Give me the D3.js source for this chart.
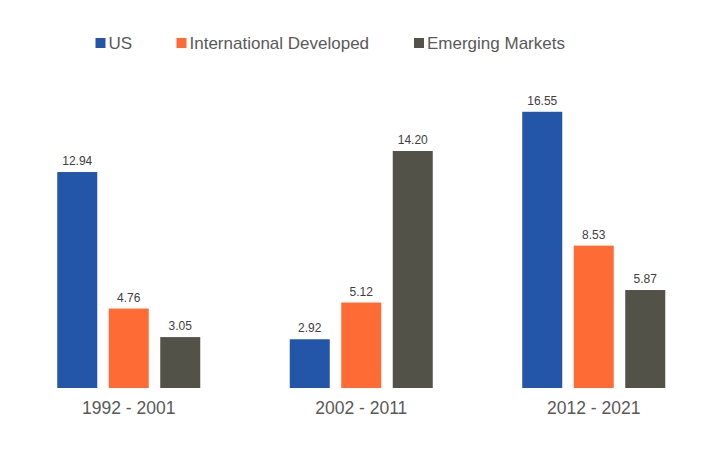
<!DOCTYPE html>
<html><head><meta charset="utf-8">
<script src="https://cdn.jsdelivr.net/npm/d3@7"></script>
<style>body{margin:0;background:#fff}svg{display:block}</style>
</head><body><svg id="c" width="720" height="462"></svg>
<script>
const periods = ["1992 - 2001", "2002 - 2011", "2012 - 2021"];
const seriesNames = ["US", "International Developed", "Emerging Markets"];
const usValues = [12.94, 2.92, 16.55];
const intlValues = [4.76, 5.12, 8.53];
const emValues = [3.05, 14.20, 5.87];
const colors = ["#2356A8", "#FF6B35", "#525249"];

const seriesValues = [usValues, intlValues, emValues];
const svg = d3.select("#c");
const font = "'Liberation Sans', Arial, sans-serif";

const x0 = d3.scaleBand().domain(periods).range([12.5, 710]).paddingInner(0).paddingOuter(0);
const x1 = d3.scaleBand().domain(seriesNames).range([0, 143]).paddingInner(0.2233).paddingOuter(0);
const y = d3.scaleLinear().domain([0, 18]).range([388, 388 - 18 * 16.69]);

const g = svg.append("g");
periods.forEach((p, i) => {
  const gx = x0(p) + x0.bandwidth() / 2 - 71.5;
  seriesNames.forEach((s, j) => {
    const v = seriesValues[j][i];
    g.append("rect")
      .attr("x", gx + x1(s)).attr("y", y(v))
      .attr("width", x1.bandwidth()).attr("height", y(0) - y(v))
      .attr("fill", colors[j]);
    g.append("text")
      .attr("x", gx + x1(s) + x1.bandwidth() / 2).attr("y", y(v) - 7)
      .attr("text-anchor", "middle").attr("font-family", font)
      .attr("font-size", 12).attr("fill", "#404040")
      .text(v.toFixed(2));
  });
});

const xAxis = svg.append("g").attr("transform", "translate(0,388)")
  .call(d3.axisBottom(x0).tickSize(0).tickPadding(14));
xAxis.select(".domain").remove();
xAxis.selectAll("text").attr("font-family", font).attr("font-size", 17.5).attr("fill", "#595959");

const legendX = [95.5, 176.5, 414];
const leg = svg.append("g");
seriesNames.forEach((s, j) => {
  leg.append("rect").attr("x", legendX[j]).attr("y", 38).attr("width", 10).attr("height", 10).attr("fill", colors[j]);
  leg.append("text").attr("x", legendX[j] + 13).attr("y", 49)
    .attr("font-family", font).attr("font-size", 17).attr("fill", "#595959").text(s);
});
</script></body></html>
